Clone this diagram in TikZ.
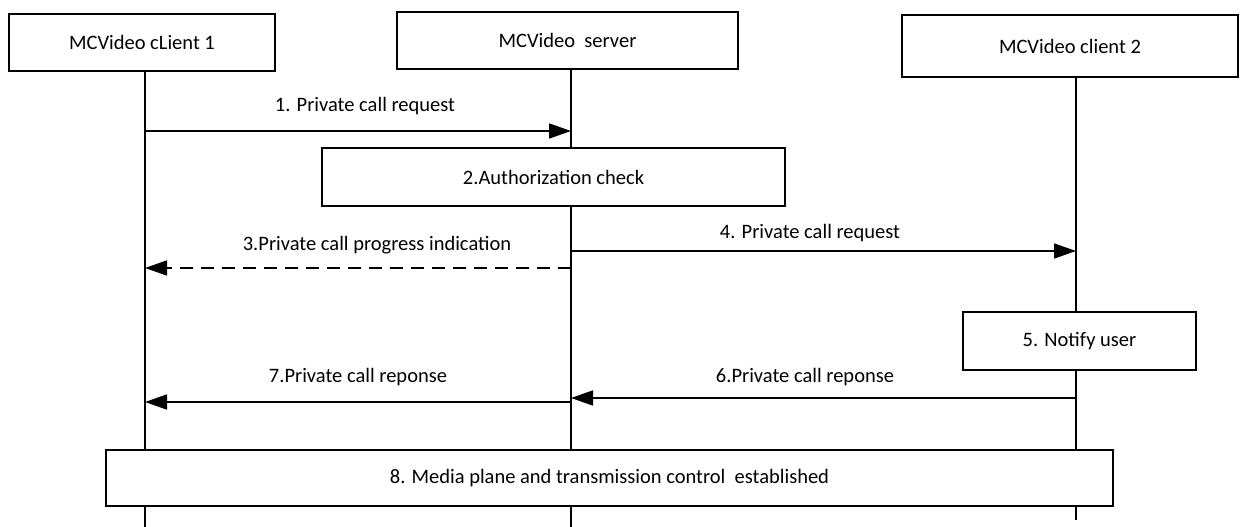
\documentclass[tikz,border=0pt]{standalone}
\usepackage{fontspec}
\setmainfont{Carlito}
\usetikzlibrary{arrows.meta}
\begin{document}
\begin{tikzpicture}[x=1pt,y=-1pt,
  box/.style={draw,line width=1.7pt,fill=white,inner sep=0pt,font=\fontsize{20.5}{24}\selectfont},
  life/.style={line width=1.7pt},
  msg/.style={line width=1.7pt,-{Triangle[length=22pt,width=15pt]}},
  dmsg/.style={msg,dash pattern=on 13pt off 8pt},
  lbl/.style={font=\fontsize{20.5}{24}\selectfont,inner sep=0pt}]
\useasboundingbox (0,0) rectangle (1240,527);
% lifeline ends
\coordinate (c1top) at (145,71);
\coordinate (c1bot) at (145,527);
\coordinate (svtop) at (571,69);
\coordinate (svbot) at (571,527);
\coordinate (c2top) at (1076,75);
\coordinate (c2bot) at (1076,520);
\draw[life] (c1top) -- (c1bot);
\draw[life] (svtop) -- (svbot);
\draw[life] (c2top) -- (c2bot);
% participants
\node[box,minimum width=266pt,minimum height=57pt] (c1) at (142,42.5) {MCVideo cLient 1};
\node[box,minimum width=341pt,minimum height=57pt] (sv) at (567.5,40.5) {MCVideo\ \ server};
\node[box,minimum width=336pt,minimum height=62pt] (c2) at (1070,46) {MCVideo client 2};
% message points
\coordinate (m1a) at (145,131); \coordinate (m1b) at (571,131);
\coordinate (m3a) at (571,268); \coordinate (m3b) at (145,268);
\coordinate (m4a) at (571,251); \coordinate (m4b) at (1076,251);
\coordinate (m6a) at (1076,398); \coordinate (m6b) at (571,398);
\coordinate (m7a) at (571,402); \coordinate (m7b) at (145,402);
\draw[msg] (m1a) -- (m1b);
\draw[dmsg] (m3a) -- (m3b);
\draw[msg] (m4a) -- (m4b);
\draw[msg] (m6a) -- (m6b);
\draw[msg] (m7a) -- (m7b);
\node[lbl] (l1) at (365,106) {1. Private call request};
\node[lbl] (l3) at (377,245) {3.Private call progress indication};
\node[lbl] (l4) at (810,233) {4. Private call request};
\node[lbl] (l6) at (805,377) {6.Private call reponse};
\node[lbl] (l7) at (358,377) {7.Private call reponse};
% action boxes
\node[box,minimum width=463pt,minimum height=58pt] (auth) at (553.5,177) {2.Authorization check};
\node[box,minimum width=233pt,minimum height=58pt] (notify) at (1079.5,341) {5. Notify user};
\node[box,minimum width=1007pt,minimum height=56pt] (media) at (609.5,478) {8. Media plane and transmission control\ \ established};
\end{tikzpicture}
\end{document}
